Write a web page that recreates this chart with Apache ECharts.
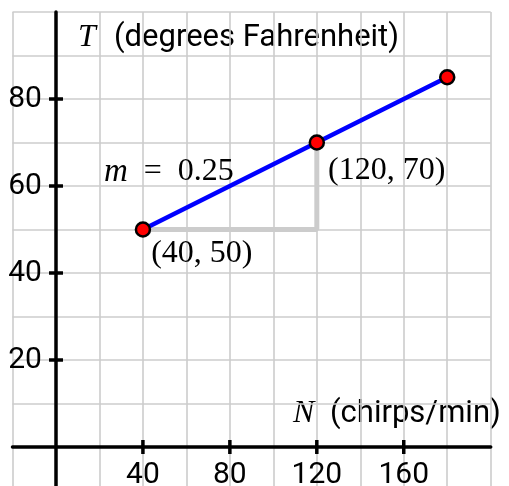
<!DOCTYPE html>
<html><head><meta charset="utf-8">
<script src="https://cdn.jsdelivr.net/npm/echarts@6/dist/echarts.min.js"></script>
<style>html,body{margin:0;padding:0;background:#fff}#c{width:509px;height:486px}</style>
</head><body><div id="c"></div>
<script>
// Data
const chirps = [40, 120, 180];
const temps = [50, 70, 85];
const labelledPoints = [0, 1];          // indices of points that carry a coordinate label
const xTickValues = [40, 80, 120, 160];
const yTickValues = [20, 40, 60, 80];
const xAxisVar = 'N', xAxisText = '(chirps/min)';
const yAxisVar = 'T', yAxisText = '(degrees Fahrenheit)';

const SANS = 'Roboto';
const SERIF = 'Liberation Serif';

const pts = chirps.map((x, i) => [x, temps[i]]);
const slope = (temps[1] - temps[0]) / (chirps[1] - chirps[0]);
const rightAngle = [[chirps[0], temps[0]], [chirps[1], temps[0]], [chirps[1], temps[1]]];
const mid = [(chirps[0] + chirps[1]) / 2, (temps[0] + temps[1]) / 2];

const chart = echarts.init(document.getElementById('c'), null, {renderer: 'canvas'});
const labelOffsets = [[0, 24], [3, 28]];

function txt(x, y, text, font) {
  return {type: 'text', x: x, y: y, silent: true,
    style: {text: text, font: font, fill: '#000', align: 'left', verticalAlign: 'middle'}};
}

chart.setOption({
  animation: false,
  backgroundColor: '#fff',
  grid: {left: 12.5, right: 18.3, top: 12, bottom: -4.5, containLabel: false, outerBoundsMode: 'none'},
  xAxis: {
    type: 'value', min: -20, max: 200, interval: 20,
    axisLine: {onZero: true, lineStyle: {color: '#000', width: 3.5}},
    axisTick: {show: false},
    splitLine: {show: true, lineStyle: {color: '#cccccc', width: 1.6}},
    axisLabel: {show: false}
  },
  yAxis: {
    type: 'value', min: -10, max: 100, interval: 10,
    axisLine: {onZero: true, lineStyle: {color: '#000', width: 3.5}},
    axisTick: {show: false},
    splitLine: {show: true, lineStyle: {color: '#cccccc', width: 1.6}},
    axisLabel: {show: false}
  },
  graphic: [
    txt(78, 38, yAxisVar, 'italic 32px "' + SERIF + '"'),
    txt(114, 38, yAxisText, '31px "' + SANS + '"'),
    txt(293, 414, xAxisVar, 'italic 32px "' + SERIF + '"'),
    txt(330, 414, xAxisText, '31px "' + SANS + '"')
  ],
  series: [
    {
      type: 'line', data: rightAngle, symbol: 'none', silent: true, z: 2,
      lineStyle: {color: '#cccccc', width: 5}
    },
    {
      type: 'line', data: pts, symbol: 'none', silent: true, z: 3,
      lineStyle: {color: '#0000ff', width: 4.5},
      markPoint: {
        symbol: 'circle', symbolSize: 1, itemStyle: {color: 'transparent'},
        label: {
          show: true, formatter: '{m|m}\u2002=\u2002' + slope.toFixed(2),
          fontFamily: SERIF, fontSize: 32, color: '#000', offset: [-61, -14],
          rich: {m: {fontFamily: SERIF, fontStyle: 'italic', fontSize: 33, color: '#000'}}
        },
        data: [{coord: mid}]
      }
    },
    {
      type: 'scatter', symbol: 'rect', symbolSize: [3.5, 14], silent: true, z: 4,
      itemStyle: {color: '#000', opacity: 1},
      label: {show: true, position: 'bottom', distance: 6, formatter: p => String(p.value[0]),
        fontFamily: SANS, fontSize: 30, color: '#000'},
      data: xTickValues.map(v => [v, 0])
    },
    {
      type: 'scatter', symbol: 'rect', symbolSize: [14, 3.5], silent: true, z: 4,
      itemStyle: {color: '#000', opacity: 1},
      label: {show: true, position: 'left', distance: 7, formatter: p => String(p.value[1]),
        fontFamily: SANS, fontSize: 30, color: '#000'},
      data: yTickValues.map(v => [0, v])
    },
    {
      type: 'scatter', symbol: 'circle', symbolSize: 14, silent: true, z: 5,
      itemStyle: {color: '#ff0000', borderColor: '#000', borderWidth: 2.5, opacity: 1},
      data: pts.map((p, i) => ({
        value: p,
        label: {
          show: labelledPoints.includes(i), position: 'right', distance: 0,
          offset: labelOffsets[i] || [0, 0],
          formatter: '(' + p[0] + ', ' + p[1] + ')',
          fontFamily: SERIF, fontSize: 32, color: '#000'
        }
      }))
    }
  ]
});
</script>
</body></html>
